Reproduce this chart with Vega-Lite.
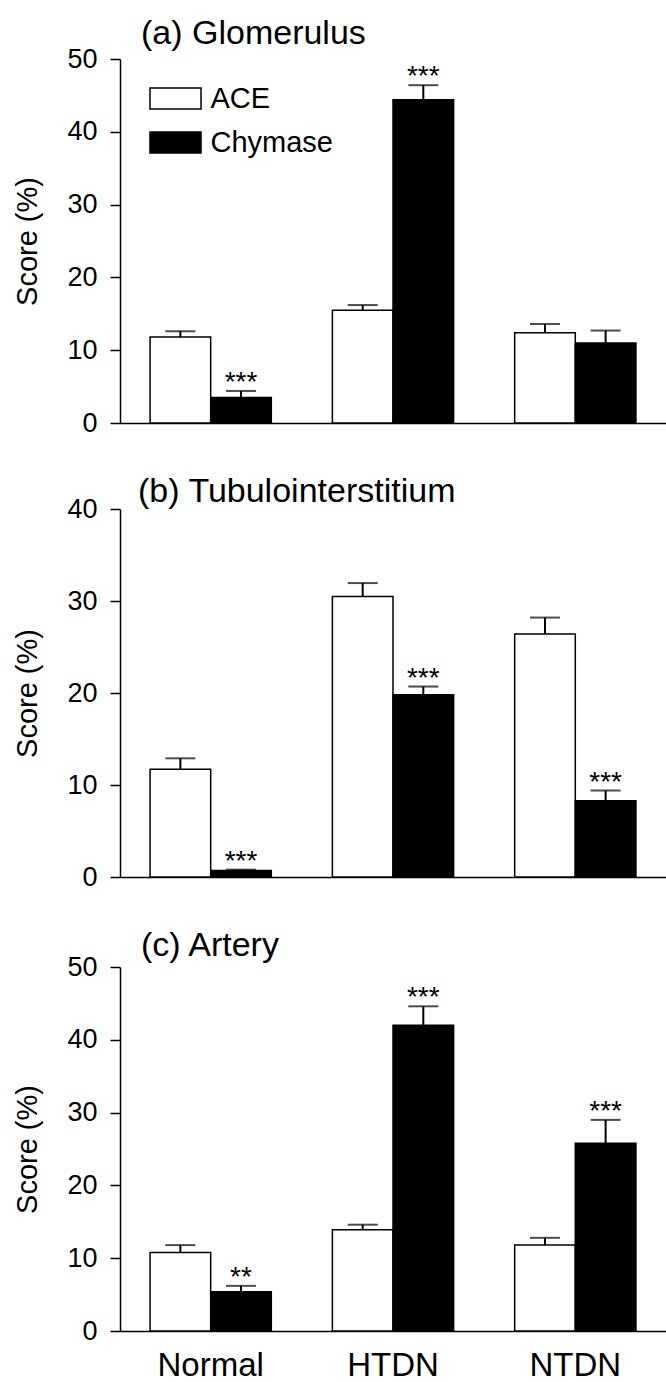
{
  "$schema": "https://vega.github.io/schema/vega-lite/v6.json",
  "autosize": {"type": "pad"},
  "padding": {"left": 13, "top": 17, "right": 0, "bottom": 0},
  "background": "white",
  "spacing": 39,
  "config": {
    "font": "Liberation Sans",
    "view": {"stroke": null},
    "axis": {"grid": false, "domainColor": "black", "domainWidth": 1.5, "tickColor": "black", "tickWidth": 1.5, "labelColor": "black", "titleColor": "black", "labelFont": "Liberation Sans", "titleFont": "Liberation Sans", "titleFontWeight": "normal"},
    "title": {"font": "Liberation Sans", "fontSize": 34, "fontWeight": "normal", "anchor": "start", "frame": "group", "color": "black"}
  },
  "resolve": {"scale": {"fill": "independent", "y": "independent", "x": "independent"}, "legend": {"fill": "independent"}},
  "datasets": {
    "scores": [
      {"panel": "a", "group": "Normal", "enzyme": "ACE", "value": 11.8, "upper": 12.6, "sig": ""},
      {"panel": "a", "group": "Normal", "enzyme": "Chymase", "value": 3.5, "upper": 4.4, "sig": "***"},
      {"panel": "a", "group": "HTDN", "enzyme": "ACE", "value": 15.5, "upper": 16.2, "sig": ""},
      {"panel": "a", "group": "HTDN", "enzyme": "Chymase", "value": 44.4, "upper": 46.4, "sig": "***"},
      {"panel": "a", "group": "NTDN", "enzyme": "ACE", "value": 12.4, "upper": 13.6, "sig": ""},
      {"panel": "a", "group": "NTDN", "enzyme": "Chymase", "value": 11.0, "upper": 12.7, "sig": ""},
      {"panel": "b", "group": "Normal", "enzyme": "ACE", "value": 11.7, "upper": 12.9, "sig": ""},
      {"panel": "b", "group": "Normal", "enzyme": "Chymase", "value": 0.7, "upper": 0.8, "sig": "***"},
      {"panel": "b", "group": "HTDN", "enzyme": "ACE", "value": 30.5, "upper": 31.95, "sig": ""},
      {"panel": "b", "group": "HTDN", "enzyme": "Chymase", "value": 19.8, "upper": 20.7, "sig": "***"},
      {"panel": "b", "group": "NTDN", "enzyme": "ACE", "value": 26.4, "upper": 28.2, "sig": ""},
      {"panel": "b", "group": "NTDN", "enzyme": "Chymase", "value": 8.3, "upper": 9.4, "sig": "***"},
      {"panel": "c", "group": "Normal", "enzyme": "ACE", "value": 10.8, "upper": 11.8, "sig": ""},
      {"panel": "c", "group": "Normal", "enzyme": "Chymase", "value": 5.4, "upper": 6.2, "sig": "**"},
      {"panel": "c", "group": "HTDN", "enzyme": "ACE", "value": 13.9, "upper": 14.6, "sig": ""},
      {"panel": "c", "group": "HTDN", "enzyme": "Chymase", "value": 42.0, "upper": 44.6, "sig": "***"},
      {"panel": "c", "group": "NTDN", "enzyme": "ACE", "value": 11.8, "upper": 12.8, "sig": ""},
      {"panel": "c", "group": "NTDN", "enzyme": "Chymase", "value": 25.8, "upper": 29.0, "sig": "***"}
    ]
  },
  "vconcat": [
    {
      "title": {"text": "(a) Glomerulus", "offset": -6, "dx": 21},
      "width": 546, "height": 364,
      "data": {"name": "scores"},
      "transform": [{"filter": "datum.panel == 'a'"}],
      "encoding": {
        "x": {"field": "group", "type": "nominal", "sort": ["Normal", "HTDN", "NTDN"], "scale": {"paddingInner": 0.335, "paddingOuter": 0.165}, "axis": {"title": null, "labels": false, "ticks": false, "domainWidth": 1.5}},
        "xOffset": {"field": "enzyme", "type": "nominal", "sort": ["ACE", "Chymase"], "scale": {"paddingInner": 0, "paddingOuter": 0}}
      },
      "layer": [
        {
          "mark": {"type": "bar", "stroke": "black", "strokeWidth": 1.5},
          "encoding": {
            "y": {"field": "value", "type": "quantitative", "scale": {"domain": [0, 50], "nice": false}, "axis": {"values": [0, 10, 20, 30, 40, 50], "title": "Score (%)", "titleFontSize": 29, "titlePadding": 24, "labelFontSize": 27, "labelPadding": 13, "tickSize": 10}},
            "fill": {"field": "enzyme", "type": "nominal", "sort": ["ACE", "Chymase"], "scale": {"domain": ["ACE", "Chymase"], "range": ["white", "black"]},
              "legend": {"orient": "none", "legendX": 41, "legendY": 25, "title": null, "symbolType": "M-2.43,-1H2.43V1H-2.43Z", "symbolSize": 441, "symbolStrokeColor": "black", "symbolStrokeWidth": 1.5, "symbolOpacity": 1, "labelFontSize": 29, "labelOffset": 20.5, "rowPadding": 14, "labelFont": "Liberation Sans", "labelColor": "black", "padding": 0}}
          }
        },
        {
          "mark": {"type": "rule", "color": "black", "strokeWidth": 2},
          "encoding": {"y": {"field": "value", "type": "quantitative"}, "y2": {"field": "upper"}}
        },
        {
          "mark": {"type": "tick", "color": "black", "thickness": 2, "size": 30},
          "encoding": {"y": {"field": "upper", "type": "quantitative"}}
        },
        {
          "mark": {"type": "text", "fontSize": 28, "baseline": "alphabetic", "color": "black", "dy": 0},
          "encoding": {"y": {"field": "upper", "type": "quantitative"}, "text": {"field": "sig"}}
        }
      ]
    },
    {
      "title": {"text": "(b) Tubulointerstitium", "offset": -14, "dx": 18},
      "width": 546, "height": 368,
      "data": {"name": "scores"},
      "transform": [{"filter": "datum.panel == 'b'"}],
      "encoding": {
        "x": {"field": "group", "type": "nominal", "sort": ["Normal", "HTDN", "NTDN"], "scale": {"paddingInner": 0.335, "paddingOuter": 0.165}, "axis": {"title": null, "labels": false, "ticks": false, "domainWidth": 1.5}},
        "xOffset": {"field": "enzyme", "type": "nominal", "sort": ["ACE", "Chymase"], "scale": {"paddingInner": 0, "paddingOuter": 0}}
      },
      "layer": [
        {
          "mark": {"type": "bar", "stroke": "black", "strokeWidth": 1.5},
          "encoding": {
            "y": {"field": "value", "type": "quantitative", "scale": {"domain": [0, 40], "nice": false}, "axis": {"values": [0, 10, 20, 30, 40], "title": "Score (%)", "titleFontSize": 29, "titlePadding": 24, "labelFontSize": 27, "labelPadding": 13, "tickSize": 10}},
            "fill": {"field": "enzyme", "type": "nominal", "sort": ["ACE", "Chymase"], "scale": {"domain": ["ACE", "Chymase"], "range": ["white", "black"]}, "legend": null}
          }
        },
        {
          "mark": {"type": "rule", "color": "black", "strokeWidth": 2},
          "encoding": {"y": {"field": "value", "type": "quantitative"}, "y2": {"field": "upper"}}
        },
        {
          "mark": {"type": "tick", "color": "black", "thickness": 2, "size": 30},
          "encoding": {"y": {"field": "upper", "type": "quantitative"}}
        },
        {
          "mark": {"type": "text", "fontSize": 28, "baseline": "alphabetic", "color": "black", "dy": 0},
          "encoding": {"y": {"field": "upper", "type": "quantitative"}, "text": {"field": "sig"}}
        }
      ]
    },
    {
      "title": {"text": "(c) Artery", "offset": -10, "dx": 21},
      "width": 546, "height": 364,
      "data": {"name": "scores"},
      "transform": [{"filter": "datum.panel == 'c'"}],
      "encoding": {
        "x": {"field": "group", "type": "nominal", "sort": ["Normal", "HTDN", "NTDN"], "scale": {"paddingInner": 0.335, "paddingOuter": 0.165}, "axis": {"title": null, "labels": true, "labelAngle": 0, "labelFontSize": 33, "labelPadding": 18, "ticks": false, "domainWidth": 1.5}},
        "xOffset": {"field": "enzyme", "type": "nominal", "sort": ["ACE", "Chymase"], "scale": {"paddingInner": 0, "paddingOuter": 0}}
      },
      "layer": [
        {
          "mark": {"type": "bar", "stroke": "black", "strokeWidth": 1.5},
          "encoding": {
            "y": {"field": "value", "type": "quantitative", "scale": {"domain": [0, 50], "nice": false}, "axis": {"values": [0, 10, 20, 30, 40, 50], "title": "Score (%)", "titleFontSize": 29, "titlePadding": 24, "labelFontSize": 27, "labelPadding": 13, "tickSize": 10}},
            "fill": {"field": "enzyme", "type": "nominal", "sort": ["ACE", "Chymase"], "scale": {"domain": ["ACE", "Chymase"], "range": ["white", "black"]}, "legend": null}
          }
        },
        {
          "mark": {"type": "rule", "color": "black", "strokeWidth": 2},
          "encoding": {"y": {"field": "value", "type": "quantitative"}, "y2": {"field": "upper"}}
        },
        {
          "mark": {"type": "tick", "color": "black", "thickness": 2, "size": 30},
          "encoding": {"y": {"field": "upper", "type": "quantitative"}}
        },
        {
          "mark": {"type": "text", "fontSize": 28, "baseline": "alphabetic", "color": "black", "dy": 0},
          "encoding": {"y": {"field": "upper", "type": "quantitative"}, "text": {"field": "sig"}}
        }
      ]
    }
  ]
}
